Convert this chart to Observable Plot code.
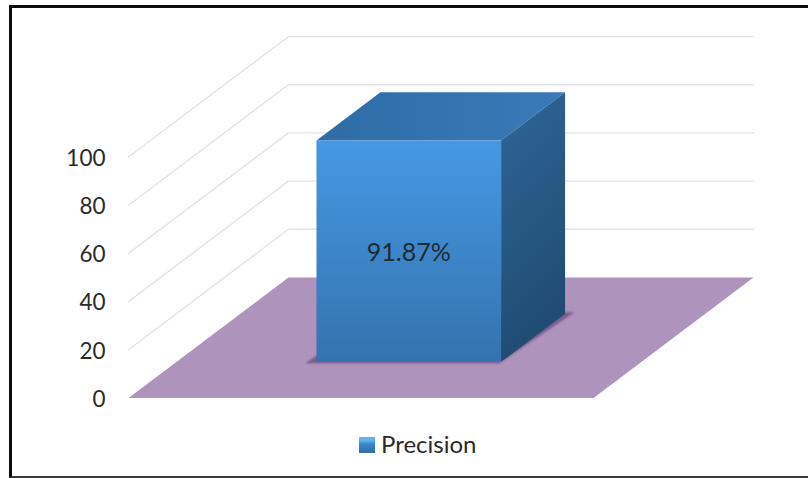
<!DOCTYPE html>
<html>
<head>
<meta charset="utf-8">
<script src="https://cdn.jsdelivr.net/npm/d3@7"></script>
<script src="https://cdn.jsdelivr.net/npm/@observablehq/plot@0.6"></script>
<style>
  html, body { margin: 0; padding: 0; background: #fff; }
  #chart { position: relative; width: 808px; height: 478px; overflow: hidden; font-family: Lato, sans-serif; }
  #chart svg { display: block; position: absolute; left: 0; top: 0; }
  #frame { position: absolute; left: 9px; top: 5px; right: -4px; bottom: 0;
           border-top: 3px solid #0c0c0c; border-left: 3px solid #0c0c0c; border-bottom: 2px solid #3a3a3a; }
  #legend { position: absolute; left: 359px; top: 429px; display: flex; align-items: center;
            font-size: 24px; line-height: 30px; color: #2a2a2a; }
  #legend i { display: block; width: 16px; height: 16px; margin-right: 6px; margin-top: 2px;
              background: linear-gradient(#5fb4ee 0, #5fb4ee 20%, #3c86c8 45%, #2f6ca6 100%); }
</style>
</head>
<body>
<div id="chart">
  <div id="frame"></div>
</div>
<script>
// Series
const categories = ["Precision"];
const values = [91.87];
const tickValues = [0, 20, 40, 60, 80, 100];

// Oblique box: u runs along the floor's width (0 to 1), d into its depth (0 to 1).
const skewU = 0.344;   // width units gained per unit of depth
const skewV = 50;      // value units gained per unit of depth
const barU = [0.301, 0.698];
const barD = [0.3, 0.7];

const pt = (u, d, v) => ({x: u + d * skewU, y: v + d * skewV});
const face = (points, fill, extra = {}) =>
  Plot.line(points, {x: "x", y: "y", fill, stroke: "none", curve: "linear-closed", ...extra});

// Gradients for the bar faces
const defs = () => {
  const svg = d3.create("svg:defs");
  const grad = (id, stops, x2 = 0, y2 = 1) => {
    const g = svg.append("linearGradient").attr("id", id)
      .attr("x1", 0).attr("y1", 0).attr("x2", x2).attr("y2", y2);
    stops.forEach(([o, c]) => g.append("stop").attr("offset", o).attr("stop-color", c));
  };
  grad("barFront", [[0, "#4698e4"], [1, "#3473ae"]]);
  grad("barTop", [[0, "#2f6ca6"], [1, "#397ab8"]], 1, 0);
  grad("barSide", [[0, "#2f6698"], [1, "#204b72"]], 0.25, 1);
  return svg.node();
};

const gridRows = tickValues.filter((t) => t > 0);
const gridLines = gridRows.flatMap((t) => [
  {...pt(0, 0, t), t},
  {...pt(0, 1, t), t},
  {...pt(1, 1, t), t}
]);

const floor = [pt(0, 0, 0), pt(1, 0, 0), pt(1, 1, 0), pt(0, 1, 0)];
const shadow = [
  pt(barU[0] - 0.02, barD[0] - 0.012, 0),
  pt(barU[1], barD[0] - 0.012, 0),
  pt(barU[1] + 0.016, barD[1] + 0.012, 0),
  pt(barU[0], barD[1], 0)
];

const value = values[0];
const [u0, u1] = barU;
const [d0, d1] = barD;
const front = [pt(u0, d0, 0), pt(u1, d0, 0), pt(u1, d0, value), pt(u0, d0, value)];
const side = [pt(u1, d0, 0), pt(u1, d1, 0), pt(u1, d1, value), pt(u1, d0, value)];
const top_ = [pt(u0, d0, value), pt(u1, d0, value), pt(u1, d1, value), pt(u0, d1, value)];
const labels = [{...pt((u0 + u1) / 2, d0, value / 2), text: d3.format(".2f")(value) + "%"}];

const plot = Plot.plot({
  width: 808,
  height: 478,
  marginLeft: 128,
  marginRight: 55,
  marginTop: 36,
  marginBottom: 80.5,
  style: {background: "transparent", fontFamily: "Lato, sans-serif"},
  x: {domain: [0, 1 + skewU], axis: null},
  y: {domain: [0, 100 + skewV], axis: null},
  marks: [
    defs,
    Plot.line(gridLines, {x: "x", y: "y", z: "t", stroke: "#e4e4e4", strokeWidth: 1.4, curve: "linear"}),
    face(floor, "#ae94bd"),
    face(shadow, "#7a5a8c", {imageFilter: "blur(1px)"}),
    face(top_, "url(#barTop)"),
    face(side, "url(#barSide)"),
    face(front, "url(#barFront)"),
    Plot.axisY({
      ticks: tickValues,
      tickSize: 0,
      tickPadding: 23,
      label: null,
      fontSize: 22.5,
      dy: 1.5,
      fill: "#2a2a2a"
    }),
    Plot.text(labels, {x: "x", y: "y", text: "text", fontSize: 25, dy: 1.5, fill: "#1f2a33"})
  ]
});

const chart = document.getElementById("chart");
chart.appendChild(plot);

// Legend sits inside the frame, under the floor
const legend = d3.select(chart).append("div").attr("id", "legend");
categories.forEach((c) => {
  legend.append("i");
  legend.append("span").text(c);
});
</script>
</body>
</html>
